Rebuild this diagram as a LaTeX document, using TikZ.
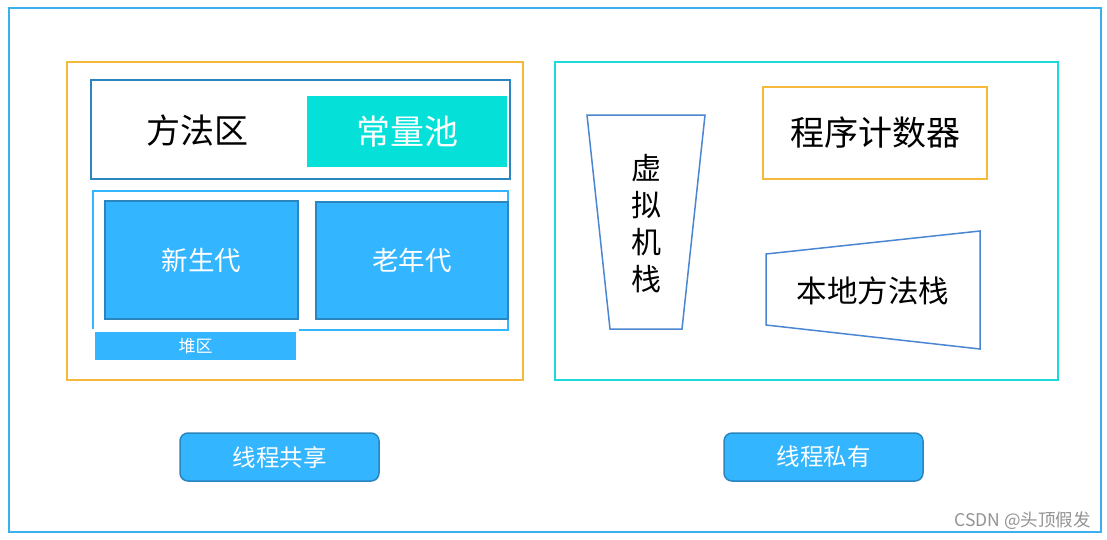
\documentclass[tikz,border=0pt]{standalone}
\usepackage{fontspec}
\setmainfont{Noto Sans CJK SC}
\definecolor{frameblue}{HTML}{3BB0EE}
\definecolor{orangeline}{HTML}{F5BA3C}
\definecolor{darkblue}{HTML}{2B85BE}
\definecolor{lightblue}{HTML}{33B5FF}
\definecolor{cyanline}{HTML}{1DD9DB}
\definecolor{turq}{HTML}{05E0D9}
\definecolor{trapblue}{HTML}{4A86D2}
\tikzset{
  box/.style={rectangle, inner sep=0pt, outer sep=0pt},
  cell/.style={box, fill=lightblue, draw=darkblue, line width=2pt, text=white},
  btn/.style={box, fill=lightblue, draw=darkblue, line width=1.5pt, rounded corners=8pt, text=white,
     minimum width=199pt, minimum height=48pt, font=\fontsize{23.5}{28}\selectfont},
  fs/.style={font=\fontsize{#1}{#1}\selectfont}
}
\begin{document}
\begin{tikzpicture}[x=1pt,y=-1pt]
\useasboundingbox (0,0) rectangle (1107,539);
\fill[white] (0,0) rectangle (1107,539);
% outer frame
\node[box, draw=frameblue, line width=1.5pt, minimum width=1092pt, minimum height=524pt] (outer) at (555,270) {};
% left: thread shared
\node[box, draw=orangeline, line width=2pt, minimum width=456pt, minimum height=318pt] (shared) at (295,221) {};
\node[box, draw=darkblue, line width=2pt, minimum width=419pt, minimum height=99pt] (method) at (300.5,129.5) {};
\node[fs=34] (methodtxt) at (197,131) {方法区};
\node[box, fill=turq, text=white, fs=34, minimum width=200pt, minimum height=71pt] (pool) at (407,131.5) {常量池};
\draw[draw=lightblue, line width=2pt] (93,191) rectangle (508,330);
\coordinate (heapnw) at (93,191);
\node[cell, fs=26.5, minimum width=193pt, minimum height=118pt] (young) at (201.5,260) {新生代};
\node[cell, fs=26.5, minimum width=192pt, minimum height=117pt] (old) at (412,260.5) {老年代};
\node[box, fill=lightblue, draw=white, line width=3pt, text=white, fs=17, minimum width=204pt, minimum height=31pt] (heaplbl) at (195.5,346) {堆区};
% right: thread private
\node[box, draw=cyanline, line width=2pt, minimum width=503pt, minimum height=318pt] (private) at (806.5,221) {};
\coordinate (vs1) at (587,115);
\coordinate (vs2) at (705,115);
\coordinate (vs3) at (682,329);
\coordinate (vs4) at (610,329);
\draw[trapblue, line width=1.5pt] (vs1) -- (vs2) -- (vs3) -- (vs4) -- cycle;
\node[align=center, text width=40pt, font=\fontsize{30}{37}\selectfont] (vmstack) at (646,224) {虚\\拟\\机\\栈};
\node[box, draw=orangeline, line width=2pt, fs=34, minimum width=224pt, minimum height=92pt] (pc) at (875,133) {程序计数器};
\coordinate (ns1) at (766,254);
\coordinate (ns2) at (980,231);
\coordinate (ns3) at (980,349);
\coordinate (ns4) at (766,325);
\draw[trapblue, line width=1.5pt] (ns1) -- (ns2) -- (ns3) -- (ns4) -- cycle;
\node[fs=30.5] (native) at (873,291) {本地方法栈};
% buttons
\node[btn] (btnshared) at (279.5,457) {线程共享};
\node[btn] (btnprivate) at (823.5,457) {线程私有};
% watermark
\node[anchor=east, text=gray!85, fs=17.5, inner sep=0pt] (wm) at (1091,521) {CSDN @头顶假发};
\end{tikzpicture}
\end{document}
